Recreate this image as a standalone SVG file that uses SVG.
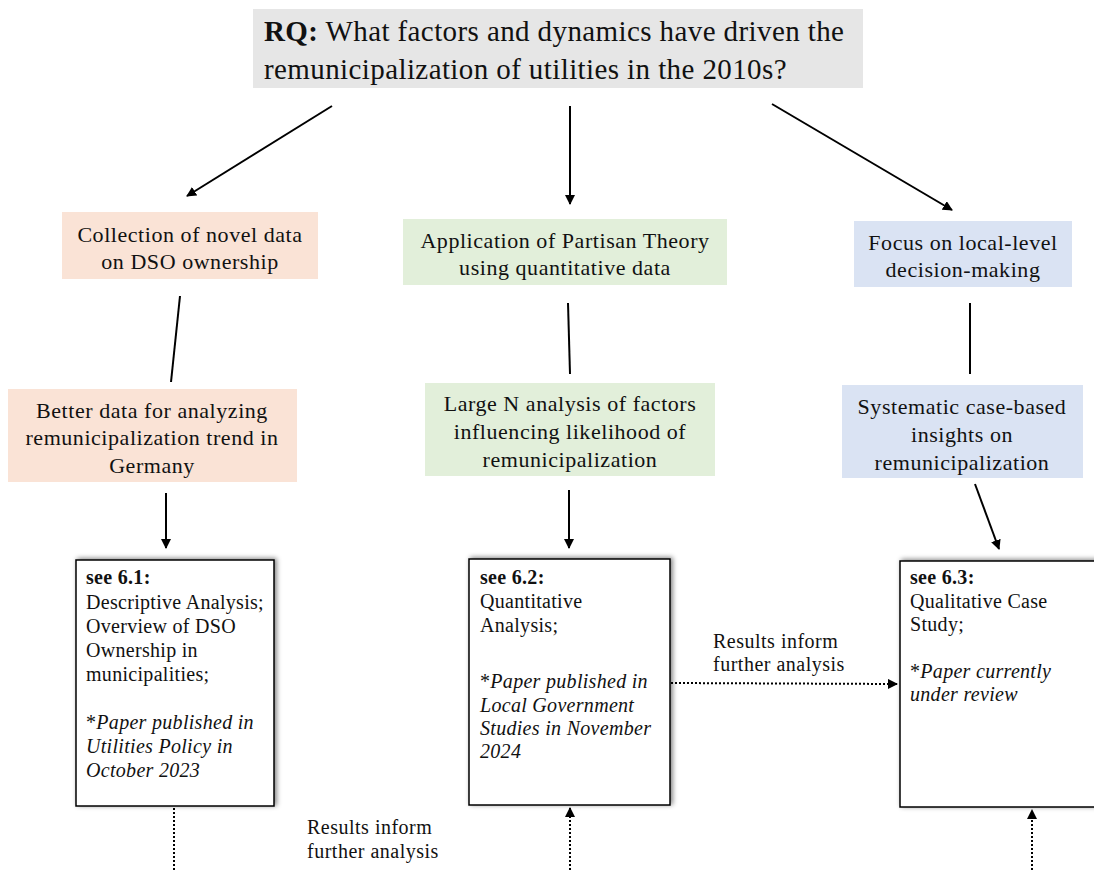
<svg xmlns="http://www.w3.org/2000/svg" width="1094" height="870" viewBox="0 0 1094 870">
<defs>
<style>
text{font-family:"Liberation Serif","Times New Roman",serif;fill:#111;}
.t{font-size:29px;letter-spacing:0.4px;}
.c{font-size:22px;letter-spacing:0.55px;text-anchor:middle;}
.b{font-size:20px;letter-spacing:0.3px;}
.lbl{font-size:20px;letter-spacing:0.5px;}
.bold{font-weight:bold;}
.it{font-style:italic;}
.peach{fill:#fae3d6;}
.green{fill:#e2efda;}
.blue{fill:#dae3f3;}
.paper{fill:#fff;stroke:#000;stroke-width:1.5;filter:url(#sh);}
.ln{stroke:#000;stroke-width:2;fill:none;}
.dot{stroke:#000;stroke-width:2;fill:none;stroke-dasharray:2 2;}
</style>
<filter id="sh" x="-10%" y="-10%" width="125%" height="125%">
<feGaussianBlur in="SourceAlpha" stdDeviation="2.5"/>
<feOffset dx="2" dy="-1" result="o"/>
<feComponentTransfer><feFuncA type="linear" slope="0.5"/></feComponentTransfer>
<feMerge><feMergeNode/><feMergeNode in="SourceGraphic"/></feMerge>
</filter>
<marker id="ah" viewBox="0 0 10 10" refX="9" refY="5" markerWidth="5" markerHeight="5" orient="auto" markerUnits="strokeWidth">
<path d="M0,0 L10,5 L0,10 z" fill="#000"/>
</marker>
</defs>

<g id="rq">
<rect x="253" y="9" width="610" height="79" fill="#e6e6e6"/>
<text class="t" x="264" y="41"><tspan class="bold">RQ:</tspan> What factors and dynamics have driven the</text>
<text class="t" x="264" y="79">remunicipalization of utilities in the 2010s?</text>
</g>

<g id="n-collection">
<rect class="peach" x="62" y="212" width="256" height="67"/>
<text class="c" x="190" y="242">Collection of novel data</text>
<text class="c" x="190" y="269">on DSO ownership</text>
</g>
<g id="n-betterdata">
<rect class="peach" x="8" y="389" width="289" height="93"/>
<text class="c" x="152" y="418">Better data for analyzing</text>
<text class="c" x="152" y="445">remunicipalization trend in</text>
<text class="c" x="152" y="473">Germany</text>
</g>
<g id="n-partisan">
<rect class="green" x="403" y="219" width="324" height="66"/>
<text class="c" x="565" y="248">Application of Partisan Theory</text>
<text class="c" x="565" y="275">using quantitative data</text>
</g>
<g id="n-largen">
<rect class="green" x="425" y="383" width="290" height="93"/>
<text class="c" x="570" y="411">Large N analysis of factors</text>
<text class="c" x="570" y="439">influencing likelihood of</text>
<text class="c" x="570" y="467">remunicipalization</text>
</g>
<g id="n-local">
<rect class="blue" x="854" y="221" width="218" height="66"/>
<text class="c" x="963" y="250">Focus on local-level</text>
<text class="c" x="963" y="277">decision-making</text>
</g>
<g id="n-systematic">
<rect class="blue" x="842" y="385" width="241" height="93"/>
<text class="c" x="962" y="414">Systematic case-based</text>
<text class="c" x="962" y="442">insights on</text>
<text class="c" x="962" y="470">remunicipalization</text>
</g>

<g id="p61">
<rect class="paper" x="76" y="560" width="198" height="246"/>
<text class="b" x="86" y="584"><tspan class="bold">see 6.1:</tspan></text>
<text class="b" x="86" y="609">Descriptive Analysis;</text>
<text class="b" x="86" y="633">Overview of DSO</text>
<text class="b" x="86" y="657">Ownership in</text>
<text class="b" x="86" y="681">municipalities;</text>
<text class="b" x="86" y="729">*<tspan class="it">Paper published in</tspan></text>
<text class="b it" x="86" y="753">Utilities Policy in</text>
<text class="b it" x="86" y="777">October 2023</text>
</g>
<g id="p62">
<rect class="paper" x="469" y="559" width="201" height="246"/>
<text class="b" x="480" y="584"><tspan class="bold">see 6.2:</tspan></text>
<text class="b" x="480" y="608">Quantitative</text>
<text class="b" x="480" y="632">Analysis;</text>
<text class="b" x="480" y="688">*<tspan class="it">Paper published in</tspan></text>
<text class="b it" x="480" y="712">Local Government</text>
<text class="b it" x="480" y="735">Studies in November</text>
<text class="b it" x="480" y="758">2024</text>
</g>
<g id="p63">
<rect class="paper" x="900" y="561" width="200" height="246"/>
<text class="b" x="910" y="584"><tspan class="bold">see 6.3:</tspan></text>
<text class="b" x="910" y="608">Qualitative Case</text>
<text class="b" x="910" y="631">Study;</text>
<text class="b" x="910" y="678">*<tspan class="it">Paper currently</tspan></text>
<text class="b it" x="910" y="701">under review</text>
</g>

<g id="connectors">
<line class="ln" x1="332" y1="106" x2="187" y2="196" marker-end="url(#ah)"/>
<line class="ln" x1="570" y1="106" x2="570" y2="204" marker-end="url(#ah)"/>
<line class="ln" x1="772" y1="104" x2="952" y2="210" marker-end="url(#ah)"/>
<line class="ln" x1="180" y1="296" x2="171" y2="382"/>
<line class="ln" x1="568" y1="303" x2="570" y2="374"/>
<line class="ln" x1="970" y1="303" x2="970" y2="374"/>
<line class="ln" x1="166" y1="493" x2="166" y2="548" marker-end="url(#ah)"/>
<line class="ln" x1="569" y1="490" x2="569" y2="548" marker-end="url(#ah)"/>
<line class="ln" x1="975" y1="484" x2="999" y2="549" marker-end="url(#ah)"/>
<line class="dot" x1="174" y1="808" x2="174" y2="870"/>
<line class="dot" x1="570" y1="870" x2="570" y2="808" marker-end="url(#ah)"/>
<line class="dot" x1="1032" y1="870" x2="1032" y2="810" marker-end="url(#ah)"/>
<line class="dot" x1="671" y1="683" x2="897" y2="684" marker-end="url(#ah)"/>
<text class="lbl" x="713" y="648">Results inform</text>
<text class="lbl" x="713" y="671">further analysis</text>
<text class="lbl" x="307" y="834">Results inform</text>
<text class="lbl" x="307" y="858">further analysis</text>
</g>
</svg>
